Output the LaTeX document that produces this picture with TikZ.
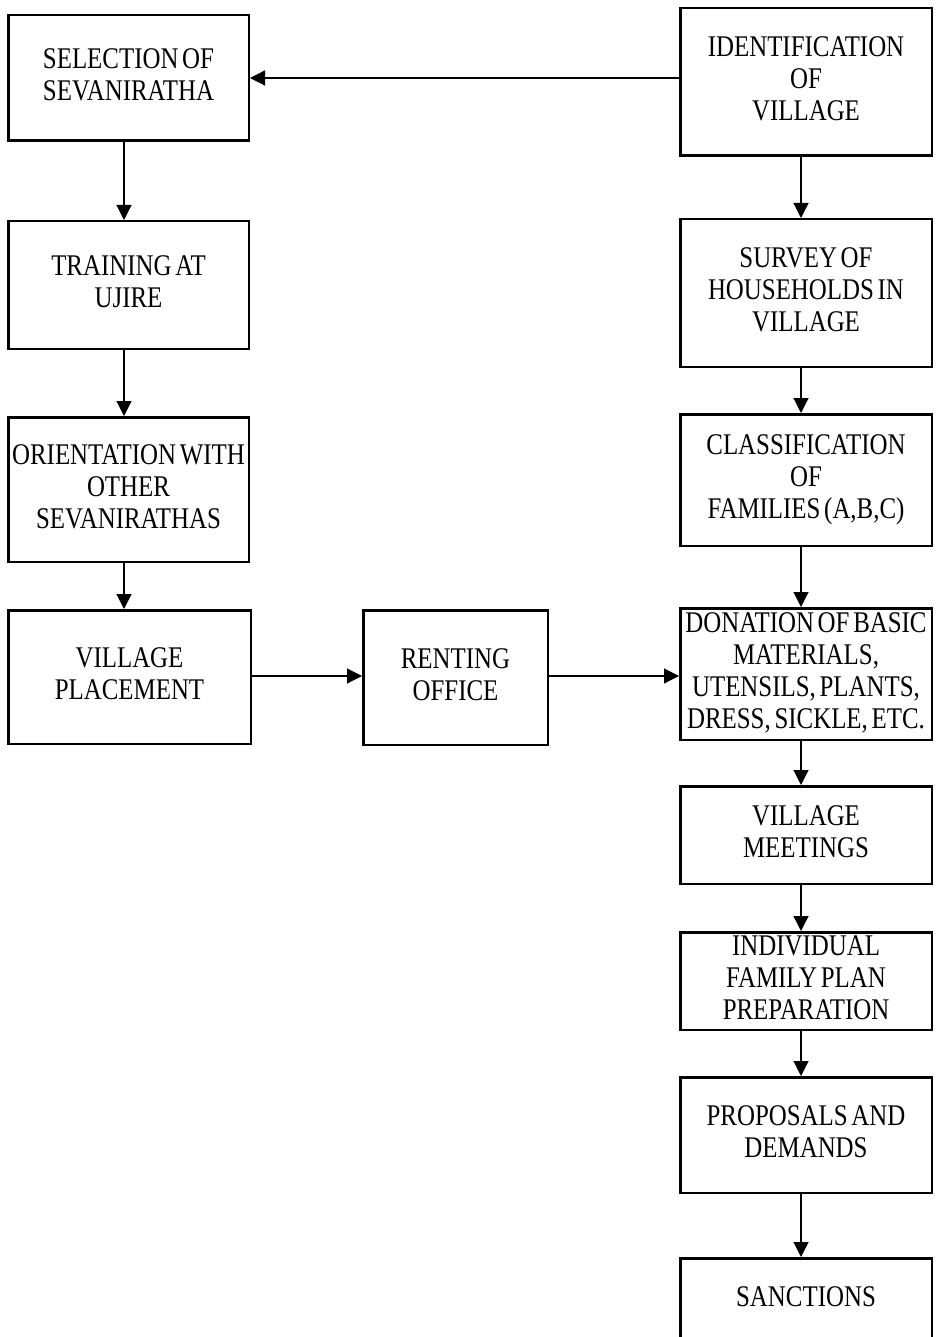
\documentclass[tikz,border=0pt]{standalone}
\usepackage{fontspec}
\setmainfont{Liberation Serif}[FakeStretch=0.83,WordSpace=0.6]
\usetikzlibrary{arrows.meta}

\begin{document}
\begin{tikzpicture}[x=1pt,y=-1pt,
  stage/.style={draw, rectangle, line width=2.5pt, inner sep=0pt, align=center,
    text depth=6pt, font=\fontsize{30}{32}\selectfont},
  flow/.style={line width=1.2pt, -{Triangle[length=15pt,width=15pt]}}]
\useasboundingbox (0,0) rectangle (935,1337);
\clip (0,0) rectangle (935,1337);

% left column
\node[stage, minimum width=240.5pt, minimum height=125.5pt] (sel)    at (128.5,78)    {SELECTION OF\\SEVANIRATHA};
\node[stage, minimum width=240.5pt, minimum height=127.5pt] (train)  at (128.5,285)   {TRAINING AT\\UJIRE};
\node[stage, minimum width=240.5pt, minimum height=144.5pt] (orient) at (128.5,489.5) {ORIENTATION WITH\\OTHER\\SEVANIRATHAS};
\node[stage, minimum width=242.5pt, minimum height=133.5pt] (place)  at (129.5,677)   {VILLAGE\\PLACEMENT};

% middle
\node[stage, minimum width=184.5pt, minimum height=134.5pt] (rent)   at (455.5,677.5) {RENTING\\OFFICE};

% right column
\node[stage, minimum width=251.5pt, minimum height=147.5pt] (ident)  at (806,82)      {IDENTIFICATION\\OF\\VILLAGE};
\node[stage, minimum width=251.5pt, minimum height=147.5pt] (survey) at (806,293)     {SURVEY OF\\HOUSEHOLDS IN\\VILLAGE};
\node[stage, minimum width=251.5pt, minimum height=131.5pt] (class)  at (806,480)     {CLASSIFICATION\\OF\\FAMILIES (A,B,C)};
\node[stage, minimum width=251.5pt, minimum height=131.5pt] (don)    at (806,674)     {DONATION OF BASIC\\MATERIALS,\\UTENSILS, PLANTS,\\DRESS, SICKLE, ETC.};
\node[stage, minimum width=251.5pt, minimum height=97.5pt]  (meet)   at (806,835)     {VILLAGE\\MEETINGS};
\node[stage, minimum width=251.5pt, minimum height=97.5pt]  (indiv)  at (806,981)     {INDIVIDUAL\\FAMILY PLAN\\PREPARATION};
\node[stage, minimum width=251.5pt, minimum height=115.5pt] (prop)   at (806,1135)    {PROPOSALS AND\\DEMANDS};
\node[stage, minimum width=251.5pt, minimum height=83.5pt]  (sanct)  at (806,1300)    {SANCTIONS};

% connectors
\draw[flow] (ident.west |- sel.east) -- (sel.east);
\draw[flow] ([xshift=-4.5pt]sel.south)    -- ([xshift=-4.5pt]sel.south |- train.north);
\draw[flow] ([xshift=-4.5pt]train.south)  -- ([xshift=-4.5pt]train.south |- orient.north);
\draw[flow] ([xshift=-4.5pt]orient.south) -- ([xshift=-4.5pt]orient.south |- place.north);
\draw[flow] ([yshift=1pt]place.east) -- ([yshift=1pt]place.east -| rent.west);
\draw[flow] ([yshift=1.5pt]rent.east) -- ([yshift=1.5pt]rent.east -| don.west);
\draw[flow] ([xshift=-5pt]ident.south)  -- ([xshift=-5pt]ident.south |- survey.north);
\draw[flow] ([xshift=-5pt]survey.south) -- ([xshift=-5pt]survey.south |- class.north);
\draw[flow] ([xshift=-5pt]class.south)  -- ([xshift=-5pt]class.south |- don.north);
\draw[flow] ([xshift=-5pt]don.south)    -- ([xshift=-5pt]don.south |- meet.north);
\draw[flow] ([xshift=-5pt]meet.south)   -- ([xshift=-5pt]meet.south |- indiv.north);
\draw[flow] ([xshift=-5pt]indiv.south)  -- ([xshift=-5pt]indiv.south |- prop.north);
\draw[flow] ([xshift=-5pt]prop.south)   -- ([xshift=-5pt]prop.south |- sanct.north);
\end{tikzpicture}
\end{document}
